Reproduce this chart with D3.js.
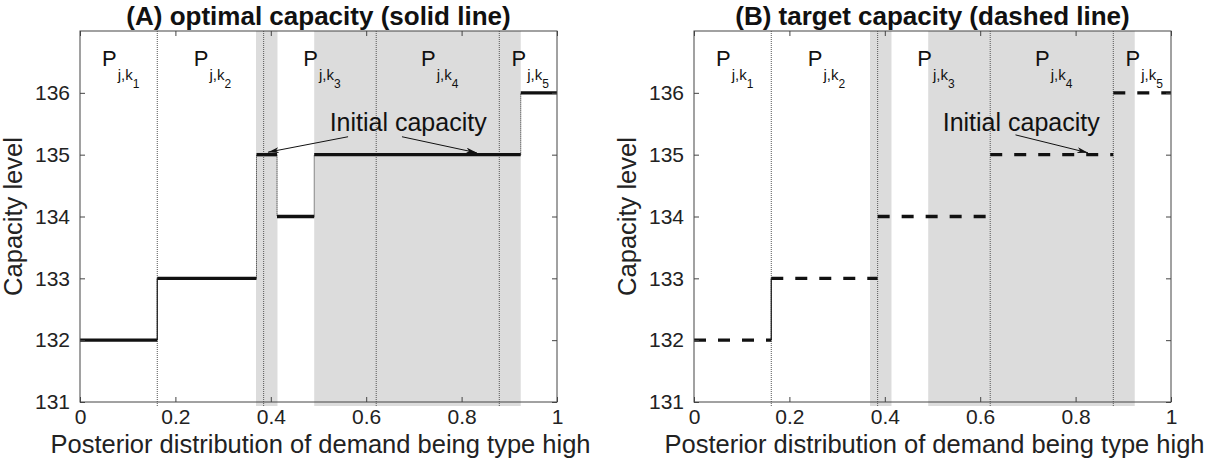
<!DOCTYPE html>
<html>
<head>
<meta charset="utf-8">
<script src="https://cdn.jsdelivr.net/npm/d3@7"></script>
<style>
  body { margin: 0; background: #fff; }
  svg { font-family: "Liberation Sans", Arial, Helvetica, sans-serif; }
</style>
</head>
<body>
<svg id="chart" width="1217" height="462"></svg>
<script>
// ---- data ----
var xTicks = [0, 0.2, 0.4, 0.6, 0.8, 1];
var yTicks = [131, 132, 133, 134, 135, 136];
var yRange = [131, 137];
var shadeBands = [[0.369, 0.414], [0.491, 0.924]];
var boundaries = [0.162, 0.385, 0.621, 0.879];
var regionIdx = ["1", "2", "3", "4", "5"];
// [x start, x end, capacity]
var optimalSteps = [[0, 0.162, 132], [0.162, 0.370, 133], [0.370, 0.413, 135],
                    [0.413, 0.491, 134], [0.491, 0.924, 135], [0.924, 1, 136]];
var targetSteps = [[0, 0.162, 132], [0.162, 0.385, 133], [0.385, 0.621, 134],
                   [0.621, 0.879, 135], [0.879, 1, 136]];
// annotation: text position, then arrows [x from, y from, x to, y to]
var optimalNote = { x: 0.688, y: 135.38, arrows: [[0.562, 135.29, 0.394, 135.04], [0.675, 135.29, 0.832, 135.03]] };
var targetNote = { x: 0.686, y: 135.38, arrows: [[0.674, 135.32, 0.826, 135.03]] };

var svg = d3.select("#chart");

svg.append("defs").append("marker")
    .attr("id", "arrowhead")
    .attr("viewBox", "0 0 11 6")
    .attr("refX", 11).attr("refY", 3)
    .attr("markerWidth", 11).attr("markerHeight", 6)
    .attr("markerUnits", "userSpaceOnUse")
    .attr("orient", "auto")
  .append("path")
    .attr("d", "M0,0 L11,3 L0,6 L3,3 Z")
    .attr("fill", "#111");

function drawPanel(left, title, steps, dashed, note) {
  var top = 31, bottom = 402, width = 477;
  var x = d3.scaleLinear().domain([0, 1]).range([left, left + width]);
  var y = d3.scaleLinear().domain(yRange).range([bottom, top]);
  var g = svg.append("g");

  // shaded bands
  g.selectAll("rect.band")
    .data(shadeBands)
    .enter().append("rect")
      .attr("class", "band")
      .attr("x", function(d) { return x(d[0]); })
      .attr("y", y(yRange[1]))
      .attr("width", function(d) { return x(d[1]) - x(d[0]); })
      .attr("height", y(yRange[0]) - y(yRange[1]) + 4)
      .attr("fill", "#dcdcdc");

  // region boundaries (dotted)
  g.selectAll("line.bound")
    .data(boundaries)
    .enter().append("line")
      .attr("x1", function(d) { return x(d); })
      .attr("x2", function(d) { return x(d); })
      .attr("y1", y(yRange[0]) + 4)
      .attr("y2", y(yRange[1]))
      .attr("stroke", "#555")
      .attr("stroke-width", 1)
      .attr("stroke-dasharray", "1,1");

  // connectors between steps (skip dotted ones that sit on a boundary)
  var conn = [];
  for (var i = 1; i < steps.length; i++) {
    var onBound = boundaries.some(function(b) { return Math.abs(b - steps[i][0]) < 0.002; });
    if (i == 1 || !onBound) conn.push([steps[i][0], steps[i - 1][2], steps[i][2], i]);
  }
  g.selectAll("line.conn")
    .data(conn)
    .enter().append("line")
      .attr("x1", function(d) { return x(d[0]); })
      .attr("x2", function(d) { return x(d[0]); })
      .attr("y1", function(d) { return y(d[1]); })
      .attr("y2", function(d) { return y(d[2]); })
      .attr("stroke", "#222")
      .attr("stroke-width", function(d) { return d[3] == 1 ? 1.3 : 1; })
      .attr("stroke-dasharray", function(d) { return d[3] == 1 ? null : "1,1"; });

  // step segments
  g.selectAll("line.step")
    .data(steps)
    .enter().append("line")
      .attr("x1", function(d) { return x(d[0]); })
      .attr("x2", function(d) { return x(d[1]); })
      .attr("y1", function(d) { return y(d[2]); })
      .attr("y2", function(d) { return y(d[2]); })
      .attr("stroke", "#111")
      .attr("stroke-width", 3.4)
      .attr("stroke-dasharray", dashed ? "12,12" : null);

  // region labels P_{j,k_n}
  var mids = [0].concat(boundaries).concat([1]);
  var lab = g.selectAll("text.reg")
    .data(regionIdx)
    .enter().append("text")
      .attr("x", function(d, i) { return x((mids[i] + mids[i + 1]) / 2) + 2; })
      .attr("y", 66)
      .attr("text-anchor", "middle")
      .attr("fill", "#111");
  lab.append("tspan").attr("font-size", 22).text("P");
  lab.append("tspan").attr("font-size", 15).attr("dy", 14).attr("dx", 1).text("j,k");
  lab.append("tspan").attr("font-size", 12).attr("dy", 8).text(function(d) { return d; });

  // annotation
  g.append("text")
    .attr("x", x(note.x))
    .attr("y", y(note.y))
    .attr("text-anchor", "middle")
    .attr("font-size", 25)
    .attr("fill", "#111")
    .text("Initial capacity");
  g.selectAll("line.arrow")
    .data(note.arrows)
    .enter().append("line")
      .attr("x1", function(d) { return x(d[0]); })
      .attr("y1", function(d) { return y(d[1]); })
      .attr("x2", function(d) { return x(d[2]); })
      .attr("y2", function(d) { return y(d[3]); })
      .attr("stroke", "#111")
      .attr("stroke-width", 1)
      .attr("marker-end", "url(#arrowhead)");

  // axes with inward ticks
  var fmt = function(d) { return String(d); };
  var ax = [
    [d3.axisBottom(x).tickValues(xTicks).tickFormat(fmt), "translate(0," + bottom + ")", 7],
    [d3.axisTop(x).tickValues(xTicks).tickFormat(""), "translate(0," + top + ")", 5],
    [d3.axisLeft(y).tickValues(yTicks).tickFormat(fmt), "translate(" + left + ",0)", 10],
    [d3.axisRight(y).tickValues(yTicks).tickFormat(""), "translate(" + (left + width) + ",0)", 5]
  ];
  ax.forEach(function(a) {
    var ga = g.append("g")
      .attr("transform", a[1])
      .call(a[0].tickSizeInner(-5).tickSizeOuter(0).tickPadding(a[2]));
    ga.select(".domain").remove();
    ga.selectAll("line").attr("stroke", "#444");
    ga.selectAll("text").attr("font-size", 21).attr("fill", "#222")
      .attr("font-family", "'Liberation Sans', Arial, sans-serif");
  });

  g.append("rect")
    .attr("x", left).attr("y", top)
    .attr("width", width).attr("height", bottom - top)
    .attr("fill", "none")
    .attr("stroke", "#444")
    .attr("stroke-width", 1);

  g.append("text")
    .attr("x", left + width / 2)
    .attr("y", 25)
    .attr("text-anchor", "middle")
    .attr("font-size", 26)
    .attr("font-weight", "bold")
    .attr("fill", "#111")
    .text(title);

  g.append("text")
    .attr("x", left + width / 2 + 2)
    .attr("y", 453)
    .attr("text-anchor", "middle")
    .attr("font-size", 25.5)
    .attr("fill", "#222")
    .text("Posterior distribution of demand being type high");

  g.append("text")
    .attr("transform", "translate(" + (left - 58) + "," + ((top + bottom) / 2) + ") rotate(-90)")
    .attr("text-anchor", "middle")
    .attr("font-size", 25.5)
    .attr("fill", "#222")
    .text("Capacity level");
}

drawPanel(80, "(A) optimal capacity (solid line)", optimalSteps, false, optimalNote);
drawPanel(694, "(B) target capacity (dashed line)", targetSteps, true, targetNote);
</script>
</body>
</html>
